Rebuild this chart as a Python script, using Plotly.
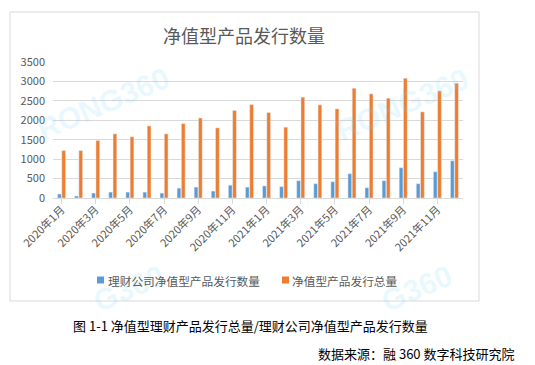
import plotly.graph_objects as go

months = [f"2020年{m}月" for m in range(1, 13)] + [f"2021年{m}月" for m in range(1, 13)]
company_counts = [102, 51, 127, 152, 152, 152, 127, 254, 280, 178, 330, 280,
                  310, 291, 445, 368, 419, 625, 265, 445, 779, 368, 676, 959]
total_counts = [1220, 1220, 1480, 1650, 1575, 1855, 1650, 1915, 2058, 1805, 2253, 2405,
                2200, 1823, 2594, 2397, 2294, 2825, 2679, 2568, 3082, 2217, 2756, 2953]
series_names = ["理财公司净值型产品发行数量", "净值型产品发行总量"]
series_colors = ["#5b9bd5", "#ed7d31"]
tick_labels = months[0::2]
y_ticks = [0, 500, 1000, 1500, 2000, 2500, 3000, 3500]

FONT = "Noto Sans CJK SC"
OFF = 8  # page body margin of the browser
W, H = 535 - OFF, 365 - OFF
L, T = 53 - OFF, 62 - OFF
R = W - (463 - OFF)
B = H - (198 - OFF)
pw, ph = W - L - R, H - T - B

def px(x):  # page x -> paper
    return (x - OFF - L) / pw

def py(y):  # page y -> paper
    return (T + ph - (y - OFF)) / ph

fig = go.Figure()
for name, vals, col in zip(series_names, [company_counts, total_counts], series_colors):
    fig.add_trace(go.Bar(x=months, y=vals, name=name, marker_color=col, showlegend=False))

fig.update_layout(
    width=W, height=H,
    margin=dict(l=L, r=R, t=T, b=B, autoexpand=False),
    paper_bgcolor="white", plot_bgcolor="white",
    barmode="group", bargap=0.5, bargroupgap=0.12,
    font=dict(family=FONT, color="#595959", size=11),
    showlegend=False,
)
fig.update_xaxes(
    type="category", categoryorder="array", categoryarray=months,
    tickmode="array", tickvals=tick_labels, ticktext=tick_labels,
    tickangle=-45, ticks="", showgrid=False, automargin=False,
    showline=True, linecolor="#d9d9d9", linewidth=1,
    tickfont=dict(size=11, color="#595959", family=FONT),
    minor=dict(tickmode="linear", tick0=-0.5, dtick=2, ticks="outside", ticklen=5,
               tickcolor="#d9d9d9", showgrid=False),
)
fig.update_yaxes(
    range=[0, 3500], tickmode="array", tickvals=y_ticks, automargin=False,
    showgrid=True, gridcolor="#d9d9d9", gridwidth=1, zeroline=False,
    tickfont=dict(size=11, color="#595959", family=FONT), ticks="",
    ticklabelstandoff=7,
)

# outer chart frame
fig.add_shape(type="rect", xref="paper", yref="paper",
              x0=px(10), x1=px(479), y0=py(301), y1=py(12),
              line=dict(color="#d9d9d9", width=1), fillcolor="rgba(0,0,0,0)", layer="below")

# watermarks
wm_font = dict(size=30, color="rgba(110,215,250,0.17)", family="Liberation Sans")
for (wx, wy) in [(103, 103), (402, 104)]:
    fig.add_annotation(text="<b>RONG360</b>", xref="paper", yref="paper", x=px(wx), y=py(wy),
                       xanchor="center", yanchor="middle",
                       showarrow=False, textangle=-23, font=wm_font)
for (wx, wy) in [(128, 288), (416, 288)]:
    fig.add_annotation(text="<b>G360</b>", xref="paper", yref="paper", x=px(wx), y=py(wy),
                       xanchor="center", yanchor="middle",
                       showarrow=False, textangle=-23, font=wm_font)

# legend (drawn manually to match the original's tight symbol spacing)
for name, col, (sx, tx) in zip(series_names, series_colors, [(97, 106), (282, 290)]):
    fig.add_shape(type="rect", xref="paper", yref="paper",
                  x0=px(sx), x1=px(sx + 7), y0=py(283.5), y1=py(276.5),
                  line=dict(width=0), fillcolor=col)
    fig.add_annotation(text=name, xref="paper", yref="paper", x=px(tx), y=py(280),
                       xanchor="left", yanchor="middle", showarrow=False,
                       font=dict(size=11.7, color="#595959", family=FONT))

# title
fig.add_annotation(text="净值型产品发行数量", xref="paper", yref="paper", x=px(244), y=py(35),
                   showarrow=False, xanchor="center", yanchor="middle",
                   font=dict(size=18, color="#595959", family=FONT))
# caption
fig.add_annotation(text="图 1-1 净值型理财产品发行总量/理财公司净值型产品发行数量",
                   xref="paper", yref="paper", x=px(250), y=py(325),
                   showarrow=False, xanchor="center", yanchor="middle",
                   font=dict(size=13, color="#000000", family=FONT))
fig.add_annotation(text="数据来源：融 360 数字科技研究院",
                   xref="paper", yref="paper", x=px(516), y=py(353),
                   showarrow=False, xanchor="right", yanchor="middle",
                   font=dict(size=13, color="#000000", family=FONT))

fig.write_html("out.html")
